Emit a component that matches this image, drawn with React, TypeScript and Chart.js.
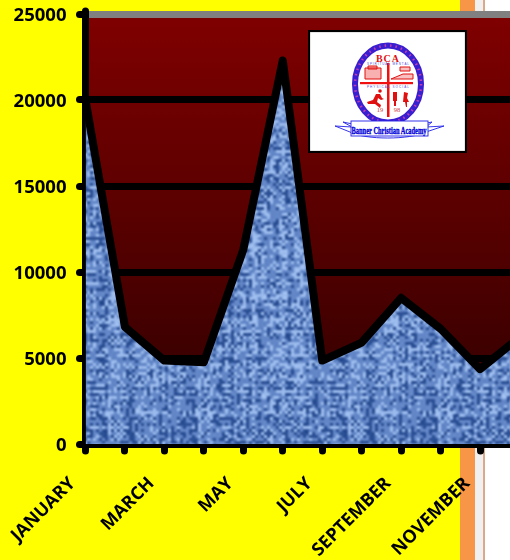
import React, { useEffect, useRef } from "react";
import { Chart, registerables } from "chart.js";

Chart.register(...registerables);

const months = ["JANUARY","FEBRUARY","MARCH","APRIL","MAY","JUNE","JULY","AUGUST","SEPTEMBER","OCTOBER","NOVEMBER","DECEMBER"];
const values = [20000,6800,4850,4750,11300,22300,4850,5900,8500,6700,4350,6200];
const yMax = 25000;
const yStep = 5000;

function makeWeave(ctx: CanvasRenderingContext2D) {
  const n = 80;
  const k = 3;
  const small = document.createElement("canvas");
  small.width = n * 3; small.height = n * 3;
  const s = small.getContext("2d")!;
  const img = s.createImageData(n, n);
  let seed = 12345;
  const next = () => { seed = (seed * 1103515245 + 12345) & 0x7fffffff; return seed / 0x7fffffff; };
  const rows = Array.from({ length: n }, () => next());
  const cols = Array.from({ length: n }, () => next());
  for (let y = 0; y < n; y++) for (let x = 0; x < n; x++) {
    const over = (x + y) % 2 === 0;
    const t = (over ? rows[y] : cols[x]) * 0.5 + next() * 0.5;
    const c = t < 0.36 ? [44, 80, 148] : t < 0.62 ? [98, 134, 198] : [154, 186, 236];
    const i = (y * n + x) * 4;
    img.data[i] = c[0]; img.data[i + 1] = c[1]; img.data[i + 2] = c[2]; img.data[i + 3] = 255;
  }
  for (let dx = 0; dx < 3; dx++) for (let dy = 0; dy < 3; dy++) s.putImageData(img, dx * n, dy * n);
  const big = document.createElement("canvas");
  big.width = n * k; big.height = n * k;
  const b = big.getContext("2d")!;
  b.imageSmoothingEnabled = true;
  b.imageSmoothingQuality = "high";
  b.drawImage(small, -n * k, -n * k, 3 * n * k, 3 * n * k);
  return ctx.createPattern(big, "repeat")!;
}

const backdrop = {
  id: "backdrop",
  beforeDraw(chart: any) {
    const { ctx, width, height, chartArea: a } = chart;
    ctx.fillStyle = "#ffffff"; ctx.fillRect(0, 0, width, height);
    ctx.fillStyle = "#ffff00"; ctx.fillRect(0, 0, 460, height);
    ctx.fillStyle = "#f79646"; ctx.fillRect(460, 0, 15, height);
    ctx.fillStyle = "#f0f0f0"; ctx.fillRect(475, 0, 8, height);
    ctx.fillStyle = "#d9a98a"; ctx.fillRect(483, 0, 2, height);
    const g = ctx.createLinearGradient(0, a.top, 0, a.bottom);
    g.addColorStop(0, "#800000");
    g.addColorStop(1, "#2c0000");
    ctx.fillStyle = g;
    ctx.fillRect(a.left, a.top, a.width, a.height);
    ctx.lineCap = "round";
  },
};

function Logo() {
  return (
    <svg width={159} height={123} viewBox="308 30 159 123"
      style={{ position: "absolute", left: 308, top: 30 }}>
      <rect x={309} y={31} width={157} height={121} fill="#fff" stroke="#000" strokeWidth={2.2} />
      <ellipse cx={388} cy={84} rx={33} ry={38.5} fill="#fff" stroke="#3a1fd0" strokeWidth={6} />
      <ellipse cx={388} cy={84} rx={33} ry={38.5} fill="none" stroke="#c040b0" strokeWidth={2.5} strokeDasharray="1.5 4" />
      <rect x={387} y={63} width={2.5} height={54} fill="#f01010" />
      <rect x={360} y={82} width={53} height={2.2} fill="#f01010" />
      <text x={388} y={62} textAnchor="middle" fontFamily="Liberation Serif" fontWeight="bold" fontSize={10} fill="#e01010" letterSpacing={1}>BCA</text>
      <text x={388} y={65} textAnchor="middle" fontFamily="Liberation Sans" fontSize={3} fill="#4a4ae0" textLength={42}>SPIRITUAL   MENTAL</text>
      <text x={388} y={87.5} textAnchor="middle" fontFamily="Liberation Sans" fontSize={3} fill="#4a4ae0" textLength={42}>PHYSICAL    SOCIAL</text>
      <path d="M365 68h16v11h-16z M368 66h9v3h-9z" fill="#f8b0b0" stroke="#e01010" strokeWidth={1} />
      <path d="M391 79l12-5 10 0 0 5z M400 67h10v4h-10z" fill="#f8c0c0" stroke="#e01010" strokeWidth={1} />
      <path d="M367 102l6-2 3-6 4 0 2 4 2 1-3 1-3-2-1 4 4 3-1 3-5-4-2 0-5 0z" fill="#e01010" />
      <circle cx={380} cy={91} r={1.8} fill="#e01010" />
      <path d="M393 92h4v9h-1v5h-2v-5h-1z M404 92l4 1-1 5 2 4h-2v5h-1l-1-5-2 0z" fill="#e01010" />
      <text x={380} y={112} textAnchor="middle" fontFamily="Liberation Serif" fontSize={6.5} fill="#d04040">19</text>
      <text x={397} y={112} textAnchor="middle" fontFamily="Liberation Serif" fontSize={6.5} fill="#d04040">98</text>
      <path d="M343 122C365 128 410 128 432 122L426 127 444 126 426 132C410 140 365 140 350 132L335 126 352 127z" fill="#fff" stroke="#2020e8" strokeWidth={0.9} />
      <rect x={351} y={121} width={77} height={15} fill="#fff" stroke="#2020e8" strokeWidth={0.9} />
      <text x={389} y={134} textAnchor="middle" fontFamily="Liberation Serif" fontWeight="bold" fontSize={10} fill="#0000d8" stroke="#0000d8" strokeWidth={0.35} textLength={75} lengthAdjust="spacingAndGlyphs">Banner Christian Academy</text>
    </svg>
  );
}

export default function App() {
  const ref = useRef<HTMLCanvasElement>(null);
  useEffect(() => {
    const ctx = ref.current!.getContext("2d")!;
    const tickFont = { family: "'Open Sans'", size: 18, weight: "bold" as const };
    const chart = new Chart(ctx, {
      type: "line",
      data: {
        labels: months,
        datasets: [{
          data: values,
          borderColor: "#000000",
          borderWidth: 8,
          borderJoinStyle: "round",
          backgroundColor: makeWeave(ctx),
          fill: "origin",
          tension: 0,
          pointRadius: 0,
          clip: false,
        }],
      },
      options: {
        animation: false,
        responsive: false,
        layout: { padding: { top: 14, right: 120.5, left: 0, bottom: 0 } },
        plugins: { legend: { display: false }, tooltip: { enabled: false } },
        scales: {
          x: {
            offset: false,
            afterFit: (s: any) => { s.height = 116; s.paddingLeft = 0; s.paddingRight = 0; },
            border: { color: "#000", width: 7 },
            grid: { drawOnChartArea: false, tickColor: "#000", tickWidth: 7, tickLength: 7 },
            ticks: {
              autoSkip: false, maxRotation: 45, minRotation: 45, color: "#000", font: tickFont, padding: 22, labelOffset: -13,
              callback: (_: any, i: number) => (i % 2 === 0 ? months[i] : ""),
            },
          },
          y: {
            min: 0, max: yMax,
            afterFit: (s: any) => { s.width = 85.5; s.paddingTop = 0; s.paddingBottom = 0; },
            border: { color: "#000", width: 7 },
            grid: {
              color: (c: any) => (c.tick && c.tick.value === yMax ? "#808080" : "#000"),
              tickColor: "#000", lineWidth: 7, tickWidth: 7, tickLength: 6,
            },
            ticks: { stepSize: yStep, color: "#000", font: { ...tickFont, size: 18.5 }, padding: 13, labelOffset: 2, callback: (v: any) => String(v) },
          },
        },
      },
      plugins: [backdrop],
    } as any);
    return () => chart.destroy();
  }, []);
  return (
    <div style={{ position: "fixed", left: 0, top: 0, width: 510, height: 560, overflow: "hidden" }}>
      <canvas ref={ref} width={640} height={560} style={{ display: "block", width: 640, height: 560 }} />
      <Logo />
    </div>
  );
}
